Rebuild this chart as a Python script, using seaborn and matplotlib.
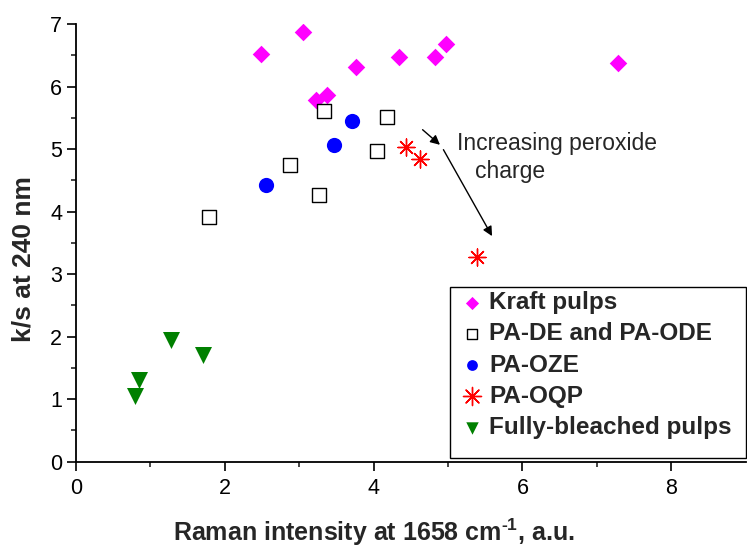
import pandas as pd
import seaborn as sns
import matplotlib.pyplot as plt
from matplotlib.patches import Rectangle

# Data
kraft_x = [2.49, 3.05, 3.22, 3.37, 3.76, 4.34, 4.82, 4.97, 7.29]
kraft_y = [6.52, 6.87, 5.79, 5.87, 6.32, 6.48, 6.47, 6.68, 6.38]

pade_x = [1.79, 2.87, 3.27, 3.34, 4.18, 4.04]
pade_y = [3.92, 4.74, 4.26, 5.61, 5.52, 4.97]

paoze_x = [2.56, 3.47, 3.71]
paoze_y = [4.42, 5.07, 5.45]

paoqp_x = [4.44, 4.62, 5.39]
paoqp_y = [5.04, 4.84, 3.27]

bleached_x = [0.80, 0.85, 1.28, 1.71]
bleached_y = [1.05, 1.31, 1.95, 1.71]

groups = ['Kraft pulps', 'PA-DE and PA-ODE', 'PA-OZE', 'PA-OQP', 'Fully-bleached pulps']

df = pd.concat([
    pd.DataFrame({'x': kraft_x, 'y': kraft_y, 'group': groups[0]}),
    pd.DataFrame({'x': pade_x, 'y': pade_y, 'group': groups[1]}),
    pd.DataFrame({'x': paoze_x, 'y': paoze_y, 'group': groups[2]}),
    pd.DataFrame({'x': paoqp_x, 'y': paoqp_y, 'group': groups[3]}),
    pd.DataFrame({'x': bleached_x, 'y': bleached_y, 'group': groups[4]}),
], ignore_index=True)

sns.set_style('ticks')
plt.rcParams['font.family'] = ['Liberation Sans', 'DejaVu Sans']
plt.rcParams['mathtext.fontset'] = 'custom'
plt.rcParams['mathtext.rm'] = 'Liberation Sans:bold'
plt.rcParams['mathtext.bf'] = 'Liberation Sans:bold'

# marker, size, face, edge, linewidth, legend size
styles = {
    'Kraft pulps': ('D', 80, '#FF00FF', '#FF00FF', 0, 45),
    'PA-DE and PA-ODE': ('s', 95, 'white', 'black', 1.0, 55),
    'PA-OZE': ('o', 120, '#0000FF', '#0000FF', 0, 60),
    'PA-OQP': ((8, 2, 0), 150, '#FF0000', '#FF0000', 1.0, 170),
    'Fully-bleached pulps': ('v', 150, 'green', 'green', 0, 80),
}

fig = plt.figure(figsize=(7.47, 5.48), dpi=100)
ax = fig.add_axes([0.1017, 0.1575, 0.8965, 0.7985])

for g in groups:
    m, s, fc, ec, lw, _ = styles[g]
    sub = df[df['group'] == g]
    sns.scatterplot(data=sub, x='x', y='y', marker=m, s=s, color=fc,
                    edgecolor=ec, linewidth=lw, label=g, ax=ax, zorder=3)

ax.set_xlim(0, 9)
ax.set_ylim(0, 7)
ax.set_xticks([0, 2, 4, 6, 8])
ax.set_xticks([1, 3, 5, 7], minor=True)
ax.set_yticks(range(0, 8))
ax.set_yticks([0.5 + i for i in range(7)], minor=True)
ax.tick_params(axis='both', which='major', direction='out', length=6.5, width=1.2,
               labelsize=15.5, colors='black')
ax.tick_params(axis='x', which='major', pad=5)
ax.tick_params(axis='both', which='minor', direction='out', length=3.5, width=1.2)
sns.despine(ax=ax)
for sp in ['left', 'bottom']:
    ax.spines[sp].set_linewidth(1.3)
    ax.spines[sp].set_color('black')

ax.set_xlabel('Raman intensity at 1658 cm$^{\\text{-1}}$, a.u.', fontsize=18,
              fontweight='bold')
ax.xaxis.set_label_coords(4 / 9, -0.125)
ax.set_ylabel('k/s at 240 nm', fontsize=19, fontweight='bold')
ax.yaxis.set_label_coords(-0.060, 0.463)

# annotation arrows
ax.annotate('', xy=(4.92, 5.04), xytext=(4.63, 5.34),
            arrowprops=dict(arrowstyle='-|>', color='black', lw=1,
                            mutation_scale=14))
ax.annotate('', xy=(5.61, 3.57), xytext=(4.92, 5.03),
            arrowprops=dict(arrowstyle='-|>', color='black', lw=1,
                            mutation_scale=14))
ax.text(6.46, 5.09, 'Increasing peroxide', fontsize=16.5, ha='center', va='center')
ax.text(5.83, 4.65, 'charge', fontsize=16.5, ha='center', va='center')

# legend with a hand-drawn frame (the original box has extra room at the bottom)
leg = ax.legend(loc='upper left', bbox_to_anchor=(450 / 747, 1 - 285 / 548),
                bbox_transform=fig.transFigure, frameon=False,
                prop={'weight': 'bold', 'size': 17.5},
                handletextpad=0.05, labelspacing=0.34, borderpad=0.25,
                handlelength=1.3, borderaxespad=0)
for h, g in zip(leg.legend_handles, groups):
    h.set_sizes([styles[g][5]])
fig.patches.append(Rectangle((450 / 747, 1 - 458 / 548), 296 / 747, 171 / 548,
                             transform=fig.transFigure, fill=False,
                             edgecolor='black', linewidth=1.0, zorder=5))

fig.savefig('out.png', dpi=100)
